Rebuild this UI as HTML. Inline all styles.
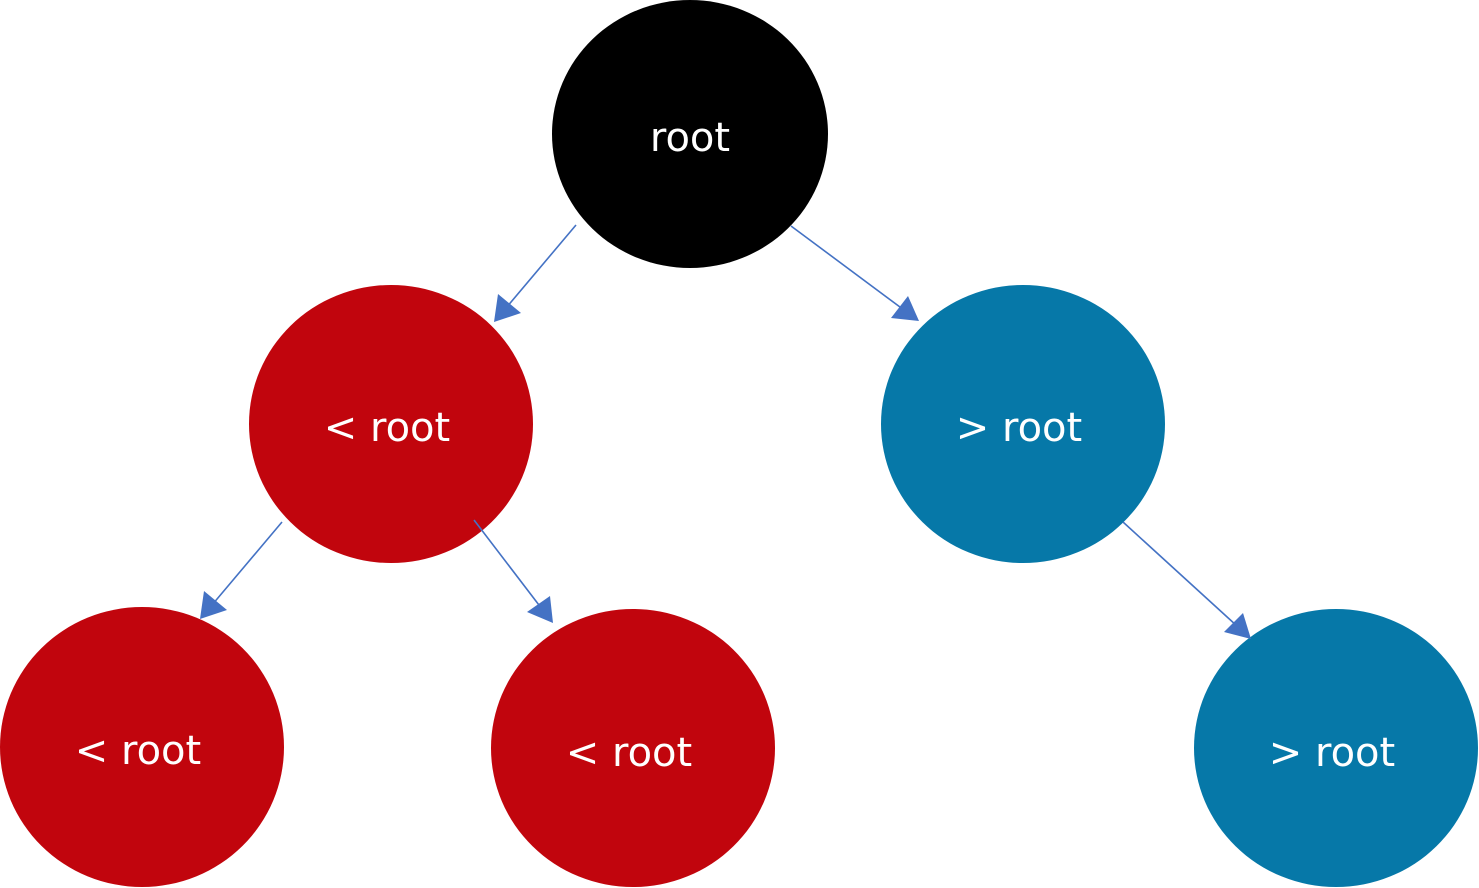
<!DOCTYPE html>
<html><head><meta charset="utf-8"><style>html,body{margin:0;padding:0;background:#fff;}svg{display:block}</style></head>
<body>
<svg width="1479" height="888" viewBox="0 0 1479 888" xmlns="http://www.w3.org/2000/svg">
<defs>
<marker id="a" viewBox="0 0 10 10" refX="10" refY="5" markerWidth="14" markerHeight="14" markerUnits="userSpaceOnUse" orient="auto">
</marker>
</defs>
<g fill="#C1050D">
<ellipse cx="391" cy="424" rx="142" ry="139"/>
<ellipse cx="142" cy="747" rx="142" ry="140"/>
<ellipse cx="633" cy="748" rx="142" ry="139"/>
</g>
<g fill="#0678A8">
<ellipse cx="1023" cy="424" rx="142" ry="139"/>
<ellipse cx="1336" cy="748" rx="142" ry="139"/>
</g>
<ellipse cx="690" cy="134" rx="138" ry="134" fill="#000"/>
<g stroke="#4472C4" stroke-width="1.6" fill="none">
<line x1="576" y1="225" x2="506" y2="308"/>
<line x1="791" y1="226" x2="904" y2="310"/>
<line x1="282" y1="522" x2="212" y2="605"/>
<line x1="474" y1="520" x2="542" y2="609"/>
<line x1="1123" y1="522" x2="1237" y2="626"/>
</g>
<g fill="#4472C4">
<polygon points="494,322 498,294 521,313"/>
<polygon points="919,321 891,318 908,296"/>
<polygon points="200,619 204,591 227,610"/>
<polygon points="553,623 527,612 550,596"/>
<polygon points="1251,639 1224,632 1243,613"/>
</g>
<g fill="#fff" font-family="'DejaVu Sans','Liberation Sans',sans-serif" font-size="40" text-anchor="middle">
<text x="690" y="151">root</text>
<text x="387" y="441">&lt; root</text>
<text x="1019" y="441">&gt; root</text>
<text x="138" y="764">&lt; root</text>
<text x="629" y="766">&lt; root</text>
<text x="1332" y="766">&gt; root</text>
</g>
</svg>
</body></html>
